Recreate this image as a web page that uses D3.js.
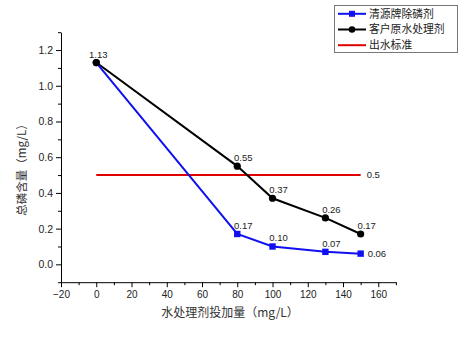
<!DOCTYPE html>
<html>
<head>
<meta charset="utf-8">
<script src="https://cdn.jsdelivr.net/npm/d3@7"></script>
<style>
  html, body { margin: 0; padding: 0; background: #fff; }
  svg { display: block; }
</style>
</head>
<body>
<svg id="chart" width="465" height="338"></svg>
<script>
// Dosage of treatment agent (mg/L)
const dosage = [0, 80, 100, 130, 150];
// Total phosphorus (mg/L) for each agent
const qingyuan = [1.13, 0.17, 0.10, 0.07, 0.06];
const customer = [1.13, 0.55, 0.37, 0.26, 0.17];
// Discharge standard
const standardValue = 0.5;
const standardRange = [0, 150];

const seriesNames = ["清源牌除磷剂", "客户原水处理剂", "出水标准"];
const xTicks = [-20, 0, 20, 40, 60, 80, 100, 120, 140, 160];
const yTicks = [0.0, 0.2, 0.4, 0.6, 0.8, 1.0, 1.2];
const xTitle = "水处理剂投加量（mg/L）";
const yTitle = "总磷含量（mg/L）";

const svg = d3.select("#chart");
const x = d3.scaleLinear().domain([-20, 170]).range([61, 395.9]);
const y = d3.scaleLinear().domain([-0.1, 1.3]).range([282.2, 32.2]);

const CJK = "'Noto Sans CJK SC', 'Noto Sans', sans-serif";
const NUM = "'Liberation Sans', Arial, sans-serif";

// Bottom axis: major + minor ticks
const xAxisG = svg.append("g").attr("transform", `translate(0,${y(-0.1)})`);
xAxisG.call(d3.axisBottom(x).tickValues(xTicks).tickFormat(d3.format("d")).tickSize(5).tickSizeOuter(0));
xAxisG.append("g").call(d3.axisBottom(x).tickValues(d3.range(-10, 171, 20)).tickSize(3).tickFormat("").tickSizeOuter(0))
  .select(".domain").remove();
xAxisG.selectAll("text").attr("font-family", NUM).attr("font-size", 10).attr("fill", "#222").attr("dy", "0.8em");

// Left axis: major + minor ticks
const yAxisG = svg.append("g").attr("transform", `translate(${x(-20)},0)`);
yAxisG.call(d3.axisLeft(y).tickValues(yTicks).tickFormat(d3.format(".1f")).tickSize(5).tickSizeOuter(0));
yAxisG.append("g").call(d3.axisLeft(y).tickValues([-0.1, 0.1, 0.3, 0.5, 0.7, 0.9, 1.1, 1.3]).tickSize(3).tickFormat("").tickSizeOuter(0))
  .select(".domain").remove();
yAxisG.selectAll("text").attr("font-family", NUM).attr("font-size", 10.5).attr("fill", "#222");

svg.selectAll(".domain, .tick line").attr("stroke", "#000").attr("stroke-width", 1);

// Axis titles
svg.append("text")
  .attr("x", 230).attr("y", 317)
  .attr("text-anchor", "middle")
  .attr("font-family", CJK).attr("font-size", 12).attr("fill", "#333")
  .text(xTitle);
svg.append("text")
  .attr("transform", "translate(26,167) rotate(-90)")
  .attr("text-anchor", "middle")
  .attr("font-family", CJK).attr("font-size", 11.5).attr("fill", "#333")
  .text(yTitle);

const line = d3.line().x(d => x(d[0])).y(d => y(d[1]));

// Standard line
svg.append("path")
  .attr("d", line(standardRange.map(v => [v, standardValue])))
  .attr("stroke", "#e00000").attr("stroke-width", 2).attr("fill", "none");
svg.append("text")
  .attr("x", x(standardRange[1]) + 6).attr("y", y(standardValue))
  .attr("dy", "0.35em")
  .attr("font-family", NUM).attr("font-size", 9.5).attr("fill", "#222")
  .text(standardValue);

const customerPts = dosage.map((d, i) => [d, customer[i]]);
const qingyuanPts = dosage.map((d, i) => [d, qingyuan[i]]);

// Customer agent: black line with circles
svg.append("path").attr("d", line(customerPts))
  .attr("stroke", "#000").attr("stroke-width", 2).attr("fill", "none");
svg.selectAll(".cdot").data(customerPts).join("circle")
  .attr("cx", d => x(d[0])).attr("cy", d => y(d[1])).attr("r", 3.6).attr("fill", "#000");

// Qingyuan agent: blue line with squares
svg.append("path").attr("d", line(qingyuanPts))
  .attr("stroke", "#1010f0").attr("stroke-width", 2).attr("fill", "none");
svg.selectAll(".qdot").data(qingyuanPts.slice(1)).join("rect")
  .attr("x", d => x(d[0]) - 3.2).attr("y", d => y(d[1]) - 3.2)
  .attr("width", 6.4).attr("height", 6.4).attr("fill", "#1010f0");
// shared starting point drawn on top
svg.append("circle").attr("cx", x(customerPts[0][0])).attr("cy", y(customerPts[0][1])).attr("r", 3.6).attr("fill", "#000");

// Value labels
const fmt = d3.format(".2f");
function labels(pts, skipFirst, lastRight) {
  pts.forEach((p, i) => {
    if (skipFirst && i === 0) return;
    const right = lastRight && i === pts.length - 1;
    svg.append("text")
      .attr("x", right ? x(p[0]) + 7 : x(p[0]) + (i === 0 ? 2 : 6))
      .attr("y", right ? y(p[1]) : y(p[1]) - 5)
      .attr("dy", right ? "0.35em" : 0)
      .attr("text-anchor", right ? "start" : "middle")
      .attr("font-family", NUM).attr("font-size", 9.5).attr("fill", "#222")
      .text(fmt(p[1]));
  });
}
labels(customerPts, false, false);
labels(qingyuanPts, true, true);

// Legend
const lg = svg.append("g");
lg.append("rect").attr("x", 334.5).attr("y", 5.5).attr("width", 123).attr("height", 47)
  .attr("fill", "#fff").attr("stroke", "#777").attr("stroke-width", 1);
const colors = ["#1010f0", "#000", "#e00000"];
const rowsY = [13.8, 29.5, 45.2];
seriesNames.forEach((name, i) => {
  lg.append("line").attr("x1", 338).attr("x2", 366).attr("y1", rowsY[i]).attr("y2", rowsY[i])
    .attr("stroke", colors[i]).attr("stroke-width", 2);
  if (i === 0) lg.append("rect").attr("x", 349).attr("y", rowsY[i] - 3).attr("width", 6).attr("height", 6).attr("fill", colors[i]);
  if (i === 1) lg.append("circle").attr("cx", 352).attr("cy", rowsY[i]).attr("r", 3.3).attr("fill", colors[i]);
  lg.append("text").attr("x", 369).attr("y", rowsY[i]).attr("dy", "0.36em")
    .attr("font-family", CJK).attr("font-size", 10.8).attr("fill", "#222")
    .text(name);
});
</script>
</body>
</html>
